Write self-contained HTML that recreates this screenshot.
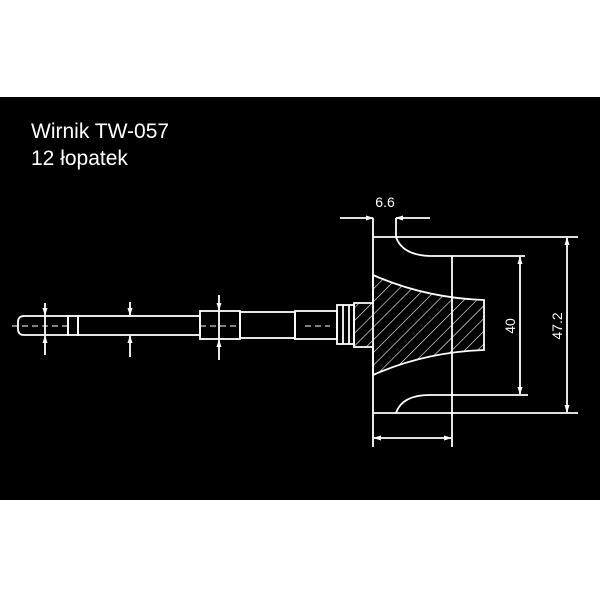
<!DOCTYPE html>
<html><head><meta charset="utf-8"><style>
html,body{margin:0;padding:0;background:#fff;}
svg{display:block;}
</style></head><body>
<svg width="600" height="600" xmlns="http://www.w3.org/2000/svg">
<defs>
<pattern id="h" width="9" height="9" patternUnits="userSpaceOnUse" patternTransform="rotate(45)">
<line x1="0" y1="0" x2="0" y2="9" stroke="#fff" stroke-width="1.2"/>
</pattern>
<marker id="a" markerWidth="8" markerHeight="8" refX="7" refY="4" orient="auto" markerUnits="userSpaceOnUse"><path d="M0,1.5 L8,4 L0,6.5z" fill="#fff"/></marker>
</defs>
<rect x="0" y="97" width="600" height="403" fill="#000"/>
<text x="31" y="138" fill="#fff" font-family="Liberation Sans, sans-serif" font-size="21">Wirnik TW-057</text>
<text x="31" y="165" fill="#fff" font-family="Liberation Sans, sans-serif" font-size="21">12 łopatek</text>
<g stroke="#fff" stroke-width="1.8" fill="none">
<path d="M68,316 L24,316 Q18,316 18,322 L18,329 Q18,335 24,335 L68,335 Z"/>
<rect x="68" y="316" width="10" height="19"/>
<rect x="78" y="316" width="122" height="19"/>
<rect x="200" y="311" width="40" height="28"/>
<rect x="240" y="312" width="55" height="26"/>
<rect x="295" y="311" width="42" height="28"/>
<rect x="337" y="305" width="17" height="39"/>
<line x1="343" y1="305" x2="343" y2="344"/>
<line x1="349" y1="305" x2="349" y2="344"/>
<line x1="373" y1="237" x2="373" y2="447"/>
<line x1="373" y1="237" x2="578" y2="237"/>
<path d="M396,237 Q402,255 430,256 L452,256"/>
<line x1="452" y1="256" x2="525" y2="256"/>
<line x1="452" y1="256" x2="452" y2="447"/>
<line x1="373" y1="413" x2="578" y2="413"/>
<path d="M396,413 Q402,395 430,395 L452,395"/>
<line x1="452" y1="395" x2="528" y2="395"/>
<path d="M354,303 L373,303 L373,275 Q425,298 484,300 L484,350 Q425,352 373,375 L373,347 L354,347 Z" fill="url(#h)"/>
<line x1="373" y1="218" x2="373" y2="237"/>
<line x1="396" y1="218" x2="396" y2="237"/>
<line x1="340" y1="218" x2="373" y2="218" marker-end="url(#a)"/>
<line x1="430" y1="218" x2="396" y2="218" marker-end="url(#a)"/>
<line x1="520" y1="325" x2="520" y2="257" marker-end="url(#a)"/>
<line x1="520" y1="325" x2="520" y2="394" marker-end="url(#a)"/>
<line x1="567" y1="325" x2="567" y2="238" marker-end="url(#a)"/>
<line x1="567" y1="325" x2="567" y2="412" marker-end="url(#a)"/>
<line x1="412" y1="438" x2="374" y2="438" marker-end="url(#a)"/>
<line x1="412" y1="438" x2="451" y2="438" marker-end="url(#a)"/>
<line x1="45" y1="303" x2="45" y2="315" marker-end="url(#a)"/>
<line x1="45" y1="355" x2="45" y2="336" marker-end="url(#a)"/>
<line x1="45" y1="316" x2="45" y2="335"/>
<line x1="130" y1="302" x2="130" y2="315" marker-end="url(#a)"/>
<line x1="130" y1="357" x2="130" y2="336" marker-end="url(#a)"/>
<line x1="219" y1="295" x2="219" y2="310" marker-end="url(#a)"/>
<line x1="219" y1="360" x2="219" y2="340" marker-end="url(#a)"/>
<line x1="219" y1="311" x2="219" y2="339"/>
</g>
<g stroke="#fff" stroke-width="1" stroke-dasharray="6,4">
<line x1="12" y1="326" x2="70" y2="326"/>
<line x1="200" y1="326" x2="240" y2="326"/>
<line x1="305" y1="326" x2="330" y2="326"/>
</g>
<text x="385" y="207" fill="#fff" font-family="Liberation Sans, sans-serif" font-size="14" text-anchor="middle">6.6</text>
<text transform="translate(515,326) rotate(-90)" fill="#fff" font-family="Liberation Sans, sans-serif" font-size="14" text-anchor="middle">40</text>
<text transform="translate(562,326) rotate(-90)" fill="#fff" font-family="Liberation Sans, sans-serif" font-size="14" text-anchor="middle">47.2</text>
</svg>
</body></html>
